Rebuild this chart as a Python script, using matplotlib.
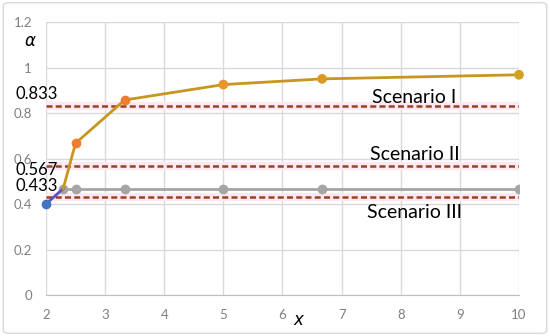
import matplotlib.pyplot as plt
from matplotlib.patches import FancyBboxPatch

plt.rcParams['font.family'] = ['Lato', 'DejaVu Sans']

# data
x_main = [2.29, 2.5, 3.33, 5, 6.67, 10]
alpha_main = [0.467, 0.667, 0.857, 0.925, 0.95, 0.968]
x_flat = [2.29, 2.5, 3.33, 5, 6.67, 10]
alpha_flat = [0.467, 0.467, 0.467, 0.467, 0.467, 0.467]
x_start = [2, 2.29]
alpha_start = [0.4, 0.467]
thresholds = [0.833, 0.567, 0.433]
threshold_labels = ['0.833', '0.567', '0.433']
label_y = [0.885, 0.548, 0.478]
scenarios = ['Scenario I', 'Scenario II', 'Scenario III']
scenario_y = [0.866, 0.616, 0.364]

fig = plt.figure(figsize=(5.5, 3.36), dpi=100)
fig.patches.append(FancyBboxPatch((0.006, 0.008), 0.988, 0.984, boxstyle='round,pad=0,rounding_size=0.01',
                                  transform=fig.transFigure, fill=False, edgecolor='#d9d9d9', linewidth=1))
ax = fig.add_axes([0.0836, 0.122, 0.86, 0.8125])

for t in thresholds:
    ax.axhline(t, color='#fde8f4', linewidth=6, zorder=1)
    ax.axhline(t, color='#9a4220', linewidth=1.8, linestyle=(0, (2.4, 1.3)), zorder=2)

ax.plot(x_flat, alpha_flat, color='#a5a5a5', linewidth=2, marker='o', markersize=6, zorder=3)
ax.plot(x_start, alpha_start, color='#5b4fc4', linewidth=2, zorder=3)
ax.plot(x_start[:1], alpha_start[:1], color='#4472c4', marker='o', markersize=6, zorder=5, clip_on=False)
ax.plot(x_main, alpha_main, color='#c8961e', linewidth=2, zorder=4)
ax.scatter(x_main[1:3], alpha_main[1:3], color='#ed7d31', s=36, zorder=5)
ax.scatter(x_main[3:], alpha_main[3:], color=['#e8952a', '#d99a25', '#d4a020'], s=36, zorder=5, clip_on=False)

ax.set_xlim(2, 10)
ax.set_ylim(0, 1.2)
ax.set_xticks(range(2, 11))
ax.set_yticks([0, 0.2, 0.4, 0.6, 0.8, 1, 1.2])
ax.set_yticklabels(['0', '0.2', '0.4', '0.6', '0.8', '1', '1.2'])
ax.tick_params(length=0, labelsize=9.5, colors='#7f7f7f')
ax.tick_params(axis='y', pad=10)
ax.tick_params(axis='x', pad=10)
ax.grid(True, color='#d9d9d9', linewidth=1)
ax.set_axisbelow(True)
for s in ['top', 'right', 'left']:
    ax.spines[s].set_visible(False)
ax.spines['bottom'].set_color('#bfbfbf')

for y, lab in zip(label_y, threshold_labels):
    ax.text(1.49, y, lab, fontsize=12, color='black', ha='left', va='center')
for y, lab in zip(scenario_y, scenarios):
    ax.text(8.23, y, lab, fontsize=14, color='black', ha='center', va='center')

fig.text(0.055, 0.878, r'$\alpha$', fontsize=12, ha='center', va='center')
fig.text(0.544, 0.048, '$x$', fontsize=12, ha='center', va='center')

fig.savefig('out.png', dpi=100)
